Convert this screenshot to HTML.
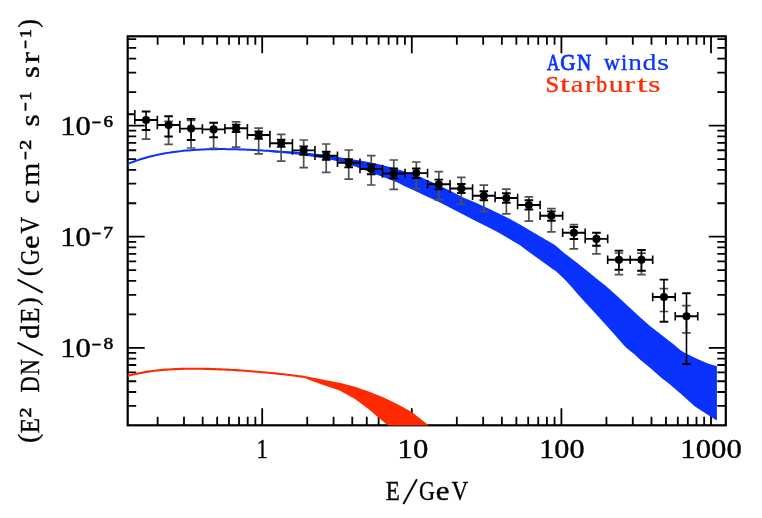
<!DOCTYPE html>
<html><head><meta charset="utf-8"><title>plot</title>
<style>html,body{margin:0;padding:0;background:#fff}svg{display:block}</style></head>
<body>
<svg width="762" height="518" viewBox="0 0 762 518">
<rect width="762" height="518" fill="#fff"/>
<defs><clipPath id="c"><rect x="127.7" y="36.3" width="598.0999999999999" height="389.25"/></clipPath></defs>
<path d="M157.63 425.3 v-8.5M157.63 36.3 v8.5M183.98 425.3 v-8.5M183.98 36.3 v8.5M202.67 425.3 v-8.5M202.67 36.3 v8.5M217.17 425.3 v-8.5M217.17 36.3 v8.5M229.01 425.3 v-8.5M229.01 36.3 v8.5M239.03 425.3 v-8.5M239.03 36.3 v8.5M247.70 425.3 v-8.5M247.70 36.3 v8.5M255.35 425.3 v-8.5M255.35 36.3 v8.5M262.20 425.3 v-17.0M262.20 36.3 v17.0M307.23 425.3 v-8.5M307.23 36.3 v8.5M333.58 425.3 v-8.5M333.58 36.3 v8.5M352.27 425.3 v-8.5M352.27 36.3 v8.5M366.77 425.3 v-8.5M366.77 36.3 v8.5M378.61 425.3 v-8.5M378.61 36.3 v8.5M388.63 425.3 v-8.5M388.63 36.3 v8.5M397.30 425.3 v-8.5M397.30 36.3 v8.5M404.95 425.3 v-8.5M404.95 36.3 v8.5M411.80 425.3 v-17.0M411.80 36.3 v17.0M456.83 425.3 v-8.5M456.83 36.3 v8.5M483.18 425.3 v-8.5M483.18 36.3 v8.5M501.87 425.3 v-8.5M501.87 36.3 v8.5M516.37 425.3 v-8.5M516.37 36.3 v8.5M528.21 425.3 v-8.5M528.21 36.3 v8.5M538.23 425.3 v-8.5M538.23 36.3 v8.5M546.90 425.3 v-8.5M546.90 36.3 v8.5M554.55 425.3 v-8.5M554.55 36.3 v8.5M561.40 425.3 v-17.0M561.40 36.3 v17.0M606.43 425.3 v-8.5M606.43 36.3 v8.5M632.78 425.3 v-8.5M632.78 36.3 v8.5M651.47 425.3 v-8.5M651.47 36.3 v8.5M665.97 425.3 v-8.5M665.97 36.3 v8.5M677.81 425.3 v-8.5M677.81 36.3 v8.5M687.83 425.3 v-8.5M687.83 36.3 v8.5M696.50 425.3 v-8.5M696.50 36.3 v8.5M704.15 425.3 v-8.5M704.15 36.3 v8.5M711.00 425.3 v-17.0M711.00 36.3 v17.0M127.7 405.89 h8.5M725.8 405.89 h-8.5M127.7 392.01 h8.5M725.8 392.01 h-8.5M127.7 381.24 h8.5M725.8 381.24 h-8.5M127.7 372.45 h8.5M725.8 372.45 h-8.5M127.7 365.01 h8.5M725.8 365.01 h-8.5M127.7 358.57 h8.5M725.8 358.57 h-8.5M127.7 352.88 h8.5M725.8 352.88 h-8.5M127.7 347.80 h17.0M725.8 347.80 h-17.0M127.7 314.36 h8.5M725.8 314.36 h-8.5M127.7 294.79 h8.5M725.8 294.79 h-8.5M127.7 280.91 h8.5M725.8 280.91 h-8.5M127.7 270.14 h8.5M725.8 270.14 h-8.5M127.7 261.35 h8.5M725.8 261.35 h-8.5M127.7 253.91 h8.5M725.8 253.91 h-8.5M127.7 247.47 h8.5M725.8 247.47 h-8.5M127.7 241.78 h8.5M725.8 241.78 h-8.5M127.7 236.70 h17.0M725.8 236.70 h-17.0M127.7 203.26 h8.5M725.8 203.26 h-8.5M127.7 183.69 h8.5M725.8 183.69 h-8.5M127.7 169.81 h8.5M725.8 169.81 h-8.5M127.7 159.04 h8.5M725.8 159.04 h-8.5M127.7 150.25 h8.5M725.8 150.25 h-8.5M127.7 142.81 h8.5M725.8 142.81 h-8.5M127.7 136.37 h8.5M725.8 136.37 h-8.5M127.7 130.68 h8.5M725.8 130.68 h-8.5M127.7 125.60 h17.0M725.8 125.60 h-17.0M127.7 92.16 h8.5M725.8 92.16 h-8.5M127.7 72.59 h8.5M725.8 72.59 h-8.5M127.7 58.71 h8.5M725.8 58.71 h-8.5M127.7 47.94 h8.5M725.8 47.94 h-8.5M127.7 39.15 h8.5M725.8 39.15 h-8.5" stroke="#000" stroke-width="1.8" fill="none"/>
<rect x="127.7" y="36.3" width="598.0999999999999" height="389.0" fill="none" stroke="#000" stroke-width="2.2"/>
<g clip-path="url(#c)">
<polygon points="270,150.0 276,150.4 289.7,151.2 297,151.8 309.4,153.0 318,153.9 330.2,155.5 340.7,157.5 348.7,158.7 360,160.5 368.4,162.0 380,164.6 391.6,167.6 400,170 411,173.6 420.5,177 430,181.3 440,185.8 451.6,191.6 463.2,197.4 474.7,202.2 486.3,207.6 497.9,213.0 509.5,218.8 520,224.6 530,230.6 541.6,237.2 553.2,244.1 555.5,245.6 564.7,253.4 576.3,262.2 587.9,271.5 599.5,281.0 604.7,285.0 616.3,295.3 627.9,306.0 639.5,316.7 650,326.0 661.6,335.0 673.2,344.0 680.5,350.2 684.7,352.8 696.3,358.6 707.9,363.4 716.9,366.3 716.9,420.5 708.1,414.9 694.6,406.2 681.1,394.1 667.6,382.4 661.6,377.9 650,367.8 640.5,360 634.7,354.6 626.6,348.0 623.2,344.6 611.6,331.3 600.7,319.2 593.2,310.9 581.6,298.5 570.3,285.6 564.7,279.4 556,271.3 553.2,269.6 541.6,260.9 530,252.8 520,245.3 509.5,239.0 497.9,232.3 486.3,226.3 474.7,220.5 463.2,214.5 451.6,208.4 440,202.6 426.3,196.2 414.7,190.8 403.2,185.4 398.5,183.0 388,178.7 377.5,174.9 367,170.9 356.5,167.0 340.7,161.9 330,159.4 318,157.4 297,154.5 276,152.6 270,152.1" fill="#0a32ff"/>
<polyline points="127.00,164.22 129.56,163.18 132.12,162.20 134.68,161.26 137.24,160.37 139.80,159.53 142.36,158.73 144.92,157.98 147.47,157.26 150.03,156.59 152.59,155.95 155.15,155.35 157.71,154.79 160.27,154.26 162.83,153.77 165.39,153.30 167.95,152.87 170.51,152.47 173.07,152.09 175.63,151.74 178.19,151.42 180.75,151.13 183.31,150.86 185.86,150.61 188.42,150.38 190.98,150.18 193.54,149.99 196.10,149.83 198.66,149.69 201.22,149.56 203.78,149.45 206.34,149.36 208.90,149.28 211.46,149.22 214.02,149.17 216.58,149.14 219.14,149.12 221.69,149.12 224.25,149.12 226.81,149.14 229.37,149.17 231.93,149.21 234.49,149.27 237.05,149.33 239.61,149.41 242.17,149.49 244.73,149.58 247.29,149.69 249.85,149.80 252.41,149.92 254.97,150.05 257.53,150.19 260.08,150.34 262.64,150.50 265.20,150.66 267.76,150.84 270.32,151.02 272.88,151.22 275.44,151.42 278.00,151.63" fill="none" stroke="#0a32ff" stroke-width="2" stroke-linejoin="round"/>
<polygon points="304.4,375.9 340.5,383.0 355,386.7 369.4,391.7 383.8,397.5 400,405.5 411.7,412.0 420,418.4 428.9,425.6 430.5,427 389.9,427 388.2,425.6 379.5,418.4 369.4,409.8 355,398.9 339.1,390.3 318.9,383.6 304.4,378.1" fill="#ff2a00"/>
<polyline points="127.00,376.03 130.02,375.25 133.03,374.52 136.05,373.85 139.07,373.23 142.08,372.66 145.10,372.14 148.12,371.66 151.14,371.23 154.15,370.83 157.17,370.48 160.19,370.16 163.20,369.89 166.22,369.64 169.24,369.43 172.25,369.24 175.27,369.09 178.29,368.96 181.31,368.86 184.32,368.79 187.34,368.73 190.36,368.70 193.37,368.69 196.39,368.70 199.41,368.73 202.42,368.77 205.44,368.83 208.46,368.91 211.47,369.00 214.49,369.11 217.51,369.22 220.53,369.35 223.54,369.49 226.56,369.65 229.58,369.81 232.59,369.98 235.61,370.17 238.63,370.36 241.64,370.56 244.66,370.77 247.68,370.99 250.69,371.22 253.71,371.45 256.73,371.70 259.75,371.95 262.76,372.22 265.78,372.49 268.80,372.77 271.81,373.06 274.83,373.36 277.85,373.68 280.86,374.00 283.88,374.33 286.90,374.68 289.92,375.04 292.93,375.42 295.95,375.81 298.97,376.21 301.98,376.63 305.00,377.07" fill="none" stroke="#ff2a00" stroke-width="2.1" stroke-linejoin="round"/>
</g>
<g clip-path="url(#c)">
<path d="M146.08 120.0 V139.2M141.78 139.2 h8.6M168.59 125.0 V121.4M164.29 121.4 h8.6M168.59 125.0 V144.3M164.29 144.3 h8.6M191.11 128.6 V120.5M186.81 120.5 h8.6M191.11 128.6 V148.0M186.81 148.0 h8.6M213.63 129.4 V148.3M209.33 148.3 h8.6M236.14 128.2 V121.9M231.84 121.9 h8.6M236.14 128.2 V147.2M231.84 147.2 h8.6M258.66 135.0 V128.2M254.36 128.2 h8.6M258.66 135.0 V153.9M254.36 153.9 h8.6M281.18 143.3 V134.3M276.88 134.3 h8.6M281.18 143.3 V161.2M276.88 161.2 h8.6M303.69 150.4 V140.0M299.39 140.0 h8.6M303.69 150.4 V167.7M299.39 167.7 h8.6M326.21 155.8 V144.0M321.91 144.0 h8.6M326.21 155.8 V172.4M321.91 172.4 h8.6M348.73 162.7 V150.0M344.43 150.0 h8.6M348.73 162.7 V179.2M344.43 179.2 h8.6M371.25 169.0 V155.7M366.95 155.7 h8.6M371.25 169.0 V185.0M366.95 185.0 h8.6M393.76 173.5 V160.0M389.46 160.0 h8.6M393.76 173.5 V189.3M389.46 189.3 h8.6M416.28 173.1 V162.0M411.98 162.0 h8.6M416.28 173.1 V189.0M411.98 189.0 h8.6M438.80 184.2 V171.7M434.50 171.7 h8.6M438.80 184.2 V199.8M434.50 199.8 h8.6M461.31 188.5 V177.4M457.01 177.4 h8.6M461.31 188.5 V204.0M457.01 204.0 h8.6M483.83 195.7 V185.1M479.53 185.1 h8.6M483.83 195.7 V211.5M479.53 211.5 h8.6M506.35 198.0 V189.2M502.05 189.2 h8.6M506.35 198.0 V213.8M502.05 213.8 h8.6M528.87 205.0 V196.9M524.57 196.9 h8.6M528.87 205.0 V221.2M524.57 221.2 h8.6M551.38 215.8 V208.6M547.08 208.6 h8.6M551.38 215.8 V231.8M547.08 231.8 h8.6M573.90 232.7 V224.6M569.60 224.6 h8.6M573.90 232.7 V248.9M569.60 248.9 h8.6M596.42 238.9 V253.9M592.12 253.9 h8.6M618.93 259.7 V253.0M614.63 253.0 h8.6M618.93 259.7 V274.6M614.63 274.6 h8.6M641.45 259.7 V253.2M637.15 253.2 h8.6M641.45 259.7 V274.6M637.15 274.6 h8.6M663.97 297.0 V288.7M659.67 288.7 h8.6M663.97 297.0 V311.5M659.67 311.5 h8.6M686.48 316.3 V305.7M682.18 305.7 h8.6M686.48 316.3 V332.9M682.18 332.9 h8.6" stroke="#505050" stroke-width="1.7" fill="none"/>
<path d="M112.30 114.2 H134.82M141.78 111.5 h8.6M141.78 130.0 h8.6M134.82 120.0 H157.33M164.29 116.2 h8.6M164.29 136.5 h8.6M157.33 125.0 H179.85M186.81 118.9 h8.6M186.81 140.0 h8.6M179.85 128.6 H202.37M209.33 122.8 h8.6M209.33 137.3 h8.6M202.37 129.4 H224.89M231.84 124.6 h8.6M231.84 132.0 h8.6M224.89 128.2 H247.40M254.36 131.4 h8.6M254.36 138.8 h8.6M247.40 135.0 H269.92M276.88 139.7 h8.6M276.88 146.9 h8.6M269.92 143.3 H292.44M299.39 146.4 h8.6M299.39 154.9 h8.6M292.44 150.4 H314.95M321.91 151.8 h8.6M321.91 159.8 h8.6M314.95 155.8 H337.47M344.43 159.2 h8.6M344.43 167.3 h8.6M337.47 162.7 H359.99M366.95 164.5 h8.6M366.95 174.2 h8.6M359.99 169.0 H382.50M389.46 168.5 h8.6M389.46 178.5 h8.6M382.50 173.5 H405.02M411.98 168.5 h8.6M411.98 178.0 h8.6M405.02 173.1 H427.54M434.50 179.6 h8.6M434.50 189.3 h8.6M427.54 184.2 H450.06M457.01 184.0 h8.6M457.01 193.0 h8.6M450.06 188.5 H472.57M479.53 191.2 h8.6M479.53 200.3 h8.6M472.57 195.7 H495.09M502.05 193.2 h8.6M502.05 202.7 h8.6M495.09 198.0 H517.61M524.57 200.3 h8.6M524.57 209.5 h8.6M517.61 205.0 H540.12M547.08 211.4 h8.6M547.08 220.8 h8.6M540.12 215.8 H562.64M569.60 227.0 h8.6M569.60 239.05 h8.6M562.64 232.7 H585.16M592.12 232.7 h8.6M592.12 245.8 h8.6M585.16 238.9 H607.67M614.63 250.6 h8.6M614.63 269.7 h8.6M607.67 259.7 H630.19M637.15 250.0 h8.6M637.15 270.8 h8.6M630.19 259.7 H652.71M659.67 279.65 h8.6M659.67 321.7 h8.6M652.71 297.0 H675.23M682.18 293.2 h8.6M682.18 364.0 h8.6M675.23 316.3 H697.74" stroke="#000" stroke-width="1.9" fill="none"/>
<path d="M112.30 109.9 v8.6M134.82 109.9 v8.6M146.08 111.5 V130.0M134.82 115.7 v8.6M157.33 115.7 v8.6M168.59 116.2 V136.5M157.33 120.7 v8.6M179.85 120.7 v8.6M191.11 118.9 V140.0M179.85 124.3 v8.6M202.37 124.3 v8.6M213.63 122.8 V137.3M202.37 125.10000000000001 v8.6M224.89 125.10000000000001 v8.6M236.14 124.6 V132.0M224.89 123.89999999999999 v8.6M247.40 123.89999999999999 v8.6M258.66 131.4 V138.8M247.40 130.7 v8.6M269.92 130.7 v8.6M281.18 139.7 V146.9M269.92 139.0 v8.6M292.44 139.0 v8.6M303.69 146.4 V154.9M292.44 146.1 v8.6M314.95 146.1 v8.6M326.21 151.8 V159.8M314.95 151.5 v8.6M337.47 151.5 v8.6M348.73 159.2 V167.3M337.47 158.39999999999998 v8.6M359.99 158.39999999999998 v8.6M371.25 164.5 V174.2M359.99 164.7 v8.6M382.50 164.7 v8.6M393.76 168.5 V178.5M382.50 169.2 v8.6M405.02 169.2 v8.6M416.28 168.5 V178.0M405.02 168.79999999999998 v8.6M427.54 168.79999999999998 v8.6M438.80 179.6 V189.3M427.54 179.89999999999998 v8.6M450.06 179.89999999999998 v8.6M461.31 184.0 V193.0M450.06 184.2 v8.6M472.57 184.2 v8.6M483.83 191.2 V200.3M472.57 191.39999999999998 v8.6M495.09 191.39999999999998 v8.6M506.35 193.2 V202.7M495.09 193.7 v8.6M517.61 193.7 v8.6M528.87 200.3 V209.5M517.61 200.7 v8.6M540.12 200.7 v8.6M551.38 211.4 V220.8M540.12 211.5 v8.6M562.64 211.5 v8.6M573.90 227.0 V239.05M562.64 228.39999999999998 v8.6M585.16 228.39999999999998 v8.6M596.42 232.7 V245.8M585.16 234.6 v8.6M607.67 234.6 v8.6M618.93 250.6 V269.7M607.67 255.39999999999998 v8.6M630.19 255.39999999999998 v8.6M641.45 250.0 V270.8M630.19 255.39999999999998 v8.6M652.71 255.39999999999998 v8.6M663.97 279.65 V321.7M652.71 292.7 v8.6M675.23 292.7 v8.6M686.48 293.2 V364.0M675.23 312.0 v8.6M697.74 312.0 v8.6" stroke="#000" stroke-width="1.6" fill="none"/>
<g fill="#000"><circle cx="123.56" cy="114.2" r="4.05"/><circle cx="146.08" cy="120.0" r="4.05"/><circle cx="168.59" cy="125.0" r="4.05"/><circle cx="191.11" cy="128.6" r="4.05"/><circle cx="213.63" cy="129.4" r="4.05"/><circle cx="236.14" cy="128.2" r="4.05"/><circle cx="258.66" cy="135.0" r="4.05"/><circle cx="281.18" cy="143.3" r="4.05"/><circle cx="303.69" cy="150.4" r="4.05"/><circle cx="326.21" cy="155.8" r="4.05"/><circle cx="348.73" cy="162.7" r="4.05"/><circle cx="371.25" cy="169.0" r="4.05"/><circle cx="393.76" cy="173.5" r="4.05"/><circle cx="416.28" cy="173.1" r="4.05"/><circle cx="438.80" cy="184.2" r="4.05"/><circle cx="461.31" cy="188.5" r="4.05"/><circle cx="483.83" cy="195.7" r="4.05"/><circle cx="506.35" cy="198.0" r="4.05"/><circle cx="528.87" cy="205.0" r="4.05"/><circle cx="551.38" cy="215.8" r="4.05"/><circle cx="573.90" cy="232.7" r="4.05"/><circle cx="596.42" cy="238.9" r="4.05"/><circle cx="618.93" cy="259.7" r="4.05"/><circle cx="641.45" cy="259.7" r="4.05"/><circle cx="663.97" cy="297.0" r="4.05"/><circle cx="686.48" cy="316.3" r="4.05"/></g>
</g>
<g font-family="'Liberation Serif', serif" style="opacity:0.999">
<text transform="translate(256.38 457.90) scale(0.810 1)" font-size="28" fill="#000" stroke="#000" stroke-width="0.38">1</text>
<text transform="translate(397.53 457.90) scale(1.096 1)" font-size="28" fill="#000" stroke="#000" stroke-width="0.38">1</text><text transform="translate(412.88 457.90) scale(1.096 1)" font-size="28" fill="#000" stroke="#000" stroke-width="0.38">0</text>
<text transform="translate(539.17 457.90) scale(1.079 1)" font-size="28" fill="#000" stroke="#000" stroke-width="0.38">1</text><text transform="translate(554.28 457.90) scale(1.079 1)" font-size="28" fill="#000" stroke="#000" stroke-width="0.38">0</text><text transform="translate(569.40 457.90) scale(1.079 1)" font-size="28" fill="#000" stroke="#000" stroke-width="0.38">0</text>
<text transform="translate(680.33 457.90) scale(1.098 1)" font-size="28" fill="#000" stroke="#000" stroke-width="0.38">1</text><text transform="translate(695.70 457.90) scale(1.098 1)" font-size="28" fill="#000" stroke="#000" stroke-width="0.38">0</text><text transform="translate(711.08 457.90) scale(1.098 1)" font-size="28" fill="#000" stroke="#000" stroke-width="0.38">0</text><text transform="translate(726.45 457.90) scale(1.098 1)" font-size="28" fill="#000" stroke="#000" stroke-width="0.38">0</text>
<text transform="translate(60.23 135.10) scale(1.096 1)" font-size="28" fill="#000" stroke="#000" stroke-width="0.38">1</text><text transform="translate(75.58 135.10) scale(1.096 1)" font-size="28" fill="#000" stroke="#000" stroke-width="0.38">0</text>
<path d="M92.20 122.40 L100.70 122.40" stroke="#000" stroke-width="1.9" fill="none" />
<text transform="translate(103.46 127.10) scale(1.088 1)" font-size="17.5" fill="#000" stroke="#000" stroke-width="0.55">6</text>
<text transform="translate(60.23 246.20) scale(1.096 1)" font-size="28" fill="#000" stroke="#000" stroke-width="0.38">1</text><text transform="translate(75.58 246.20) scale(1.096 1)" font-size="28" fill="#000" stroke="#000" stroke-width="0.38">0</text>
<path d="M92.20 233.50 L100.70 233.50" stroke="#000" stroke-width="1.9" fill="none" />
<text transform="translate(103.16 238.20) scale(1.123 1)" font-size="17.5" fill="#000" stroke="#000" stroke-width="0.55">7</text>
<text transform="translate(60.23 357.30) scale(1.096 1)" font-size="28" fill="#000" stroke="#000" stroke-width="0.38">1</text><text transform="translate(75.58 357.30) scale(1.096 1)" font-size="28" fill="#000" stroke="#000" stroke-width="0.38">0</text>
<path d="M92.20 344.60 L100.70 344.60" stroke="#000" stroke-width="1.9" fill="none" />
<text transform="translate(103.44 349.30) scale(1.123 1)" font-size="17.5" fill="#000" stroke="#000" stroke-width="0.55">8</text>
<text transform="translate(385.79 499.60) scale(0.826 1)" font-size="28" fill="#000" stroke="#000" stroke-width="0.38">E</text>
<text transform="translate(419.01 499.60) scale(0.795 1)" font-size="28" fill="#000" stroke="#000" stroke-width="0.38">G</text>
<text transform="translate(435.79 499.60) scale(1.107 1)" font-size="28" fill="#000" stroke="#000" stroke-width="0.38">e</text>
<text transform="translate(451.50 499.60) scale(0.830 1)" font-size="28" fill="#000" stroke="#000" stroke-width="0.38">V</text>
<path d="M403.40 504.00 L416.90 479.20" stroke="#000" stroke-width="1.9" fill="none" />
<text transform="translate(37.20 442.89) rotate(-90) scale(0.987 1)" font-size="28" fill="#000" stroke="#000" stroke-width="0.38">(</text>
<text transform="translate(38.60 433.15) rotate(-90) scale(0.897 1)" font-size="28" fill="#000" stroke="#000" stroke-width="0.38">E</text>
<text transform="translate(38.60 392.50) rotate(-90) scale(0.805 1)" font-size="28" fill="#000" stroke="#000" stroke-width="0.38">D</text>
<text transform="translate(38.60 375.09) rotate(-90) scale(0.779 1)" font-size="28" fill="#000" stroke="#000" stroke-width="0.38">N</text>
<text transform="translate(38.60 338.76) rotate(-90) scale(1.015 1)" font-size="28" fill="#000" stroke="#000" stroke-width="0.38">d</text>
<text transform="translate(38.60 323.26) rotate(-90) scale(0.916 1)" font-size="28" fill="#000" stroke="#000" stroke-width="0.38">E</text>
<text transform="translate(37.20 305.67) rotate(-90) scale(0.893 1)" font-size="28" fill="#000" stroke="#000" stroke-width="0.38">)</text>
<text transform="translate(37.20 276.35) rotate(-90) scale(0.947 1)" font-size="28" fill="#000" stroke="#000" stroke-width="0.38">(</text>
<text transform="translate(38.60 265.06) rotate(-90) scale(0.762 1)" font-size="28" fill="#000" stroke="#000" stroke-width="0.38">G</text>
<text transform="translate(38.60 248.90) rotate(-90) scale(1.098 1)" font-size="28" fill="#000" stroke="#000" stroke-width="0.38">e</text>
<text transform="translate(38.60 233.60) rotate(-90) scale(0.825 1)" font-size="28" fill="#000" stroke="#000" stroke-width="0.38">V</text>
<text transform="translate(38.60 203.63) rotate(-90) scale(1.109 1)" font-size="28" fill="#000" stroke="#000" stroke-width="0.38">c</text>
<text transform="translate(38.60 185.94) rotate(-90) scale(1.071 1)" font-size="28" fill="#000" stroke="#000" stroke-width="0.38">m</text>
<text transform="translate(38.60 126.51) rotate(-90) scale(1.111 1)" font-size="28" fill="#000" stroke="#000" stroke-width="0.38">s</text>
<text transform="translate(38.60 78.09) rotate(-90) scale(1.089 1)" font-size="28" fill="#000" stroke="#000" stroke-width="0.38">s</text>
<text transform="translate(38.60 63.61) rotate(-90) scale(1.222 1)" font-size="28" fill="#000" stroke="#000" stroke-width="0.38">r</text>
<text transform="translate(37.20 27.79) rotate(-90) scale(0.920 1)" font-size="28" fill="#000" stroke="#000" stroke-width="0.38">)</text>
<text transform="translate(30.70 417.47) rotate(-90) scale(1.147 1)" font-size="17.5" fill="#000" stroke="#000" stroke-width="0.55">2</text>
<text transform="translate(30.70 149.87) rotate(-90) scale(1.147 1)" font-size="17.5" fill="#000" stroke="#000" stroke-width="0.55">2</text>
<text transform="translate(30.70 100.62) rotate(-90) scale(1.000 1)" font-size="17.5" fill="#000" stroke="#000" stroke-width="0.55">1</text>
<text transform="translate(30.70 37.97) rotate(-90) scale(1.000 1)" font-size="17.5" fill="#000" stroke="#000" stroke-width="0.55">1</text>
<path d="M42.80 355.30 L17.50 342.60" stroke="#000" stroke-width="1.9" fill="none" />
<path d="M42.80 292.70 L17.50 279.60" stroke="#000" stroke-width="1.9" fill="none" />
<path d="M25.50 159.40 L25.50 151.70" stroke="#000" stroke-width="1.9" fill="none" />
<path d="M25.50 110.70 L25.50 102.80" stroke="#000" stroke-width="1.9" fill="none" />
<path d="M25.50 48.30 L25.50 40.50" stroke="#000" stroke-width="1.9" fill="none" />
<text transform="translate(547.08 70.40) scale(0.737 1)" font-size="23.5" fill="#0a32ff" stroke="#0a32ff" stroke-width="0.85">A</text>
<text transform="translate(560.35 70.40) scale(0.898 1)" font-size="23.5" fill="#0a32ff" stroke="#0a32ff" stroke-width="0.85">G</text>
<text transform="translate(576.99 70.40) scale(0.836 1)" font-size="23.5" fill="#0a32ff" stroke="#0a32ff" stroke-width="0.85">N</text>
<text transform="translate(603.94 70.40) scale(0.943 1)" font-size="23.5" fill="#0a32ff" stroke="#0a32ff" stroke-width="0.5">w</text>
<text transform="translate(620.96 70.40) scale(0.950 1)" font-size="23.5" fill="#0a32ff" stroke="#0a32ff" stroke-width="0.5">i</text>
<text transform="translate(628.21 70.40) scale(1.157 1)" font-size="23.5" fill="#0a32ff" stroke="#0a32ff" stroke-width="0.15">n</text>
<text transform="translate(642.61 70.40) scale(1.182 1)" font-size="23.5" fill="#0a32ff" stroke="#0a32ff" stroke-width="0.15">d</text>
<text transform="translate(657.00 70.40) scale(1.329 1)" font-size="23.5" fill="#0a32ff" stroke="#0a32ff" stroke-width="0.15">s</text>
<text transform="translate(545.59 92.40) scale(1.048 1)" font-size="23.5" fill="#ff2a00" stroke="#ff2a00" stroke-width="0.5">S</text>
<text transform="translate(559.80 92.40) scale(1.556 1)" font-size="23.5" fill="#ff2a00" stroke="#ff2a00" stroke-width="0.15">t</text>
<text transform="translate(570.69 92.40) scale(1.221 1)" font-size="23.5" fill="#ff2a00" stroke="#ff2a00" stroke-width="0.15">a</text>
<text transform="translate(584.67 92.40) scale(1.303 1)" font-size="23.5" fill="#ff2a00" stroke="#ff2a00" stroke-width="0.15">r</text>
<text transform="translate(596.23 92.40) scale(0.924 1)" font-size="23.5" fill="#ff2a00" stroke="#ff2a00" stroke-width="0.5">b</text>
<text transform="translate(608.70 92.40) scale(1.278 1)" font-size="23.5" fill="#ff2a00" stroke="#ff2a00" stroke-width="0.15">u</text>
<text transform="translate(624.25 92.40) scale(1.394 1)" font-size="23.5" fill="#ff2a00" stroke="#ff2a00" stroke-width="0.15">r</text>
<text transform="translate(636.70 92.40) scale(1.644 1)" font-size="23.5" fill="#ff2a00" stroke="#ff2a00" stroke-width="0.15">t</text>
<text transform="translate(648.07 92.40) scale(1.368 1)" font-size="23.5" fill="#ff2a00" stroke="#ff2a00" stroke-width="0.15">s</text>
</g>
</svg>
</body></html>
